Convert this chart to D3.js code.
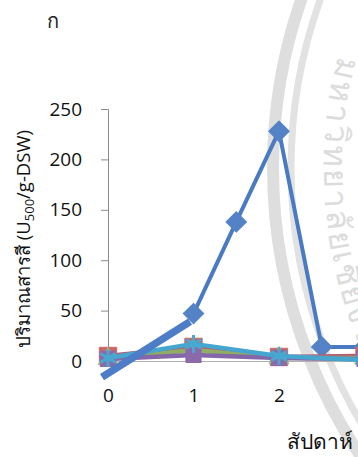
<!DOCTYPE html>
<html>
<head>
<meta charset="utf-8">
<script src="https://cdn.jsdelivr.net/npm/d3@7"></script>
<style>
  html, body { margin: 0; padding: 0; background: #fff; }
  svg { display: block; font-family: "Open Sans", "Noto Sans", sans-serif; }
</style>
</head>
<body>
<div id="chart"></div>
<script>
// values
const weeks = [0, 1, 2, 3];
const blueWeeks = [1, 1.5, 2, 2.5, 3];
const blueValues = [47, 138, 228, 14, 14];
const blueLeadWeeks = [-0.07, 0.96];
const blueLeadValues = [-16, 39];
const redValues = [5, 14, 4, 5];
const greenValues = [2, 11, 3, 3];
const purpleValues = [2, 6, 3, 2];
const cyanValues = [3, 17, 5, 1];
const yTicks = [0, 50, 100, 150, 200, 250];
const xTicks = [0, 1, 2];

const width = 358, height = 457;

const svg = d3.select('#chart')
  .append('svg')
    .attr('width', width)
    .attr('height', height);

// faint seal watermark behind the chart
const seal = svg.append('g').attr('class', 'seal');
const sc = {x: 790, y: 168};
seal.append('circle')
    .attr('cx', sc.x).attr('cy', sc.y).attr('r', 517)
    .attr('fill', 'none').attr('stroke', '#dedede').attr('stroke-width', 12);
seal.append('circle')
    .attr('cx', sc.x).attr('cy', sc.y).attr('r', 499)
    .attr('fill', 'none').attr('stroke', '#e2e2e2').attr('stroke-width', 7);
const rt = 466;
const p0 = [sc.x - Math.sqrt(rt * rt - 228 * 228), -60];
const p1 = [sc.x - Math.sqrt(rt * rt - 330 * 330), 498];
seal.append('path')
    .attr('id', 'sealPath')
    .attr('d', `M${p0[0]},${p0[1]} A${rt},${rt} 0 0 0 ${p1[0]},${p1[1]}`)
    .attr('fill', 'none');
seal.append('text')
    .attr('font-size', 33)
    .attr('letter-spacing', 2)
    .attr('fill', '#dcdcdc')
    .append('textPath')
      .attr('href', '#sealPath')
      .attr('startOffset', 125)
      .text('มหาวิทยาลัยเชียงใหม่');

const x = d3.scaleLinear().domain([0, 3]).range([108, 364.5]);
const y = d3.scaleLinear().domain([0, 250]).range([361, 109]);

// axes
const yAxis = svg.append('g')
    .attr('transform', `translate(${x(0)},0)`)
    .call(d3.axisLeft(y).tickValues(yTicks).tickSize(7).tickPadding(19));
yAxis.select('.domain').attr('stroke', '#8a8a8a');
yAxis.selectAll('.tick line').attr('stroke', '#8a8a8a');
yAxis.selectAll('.tick text')
    .attr('font-size', 19).attr('fill', '#111').attr('font-family', 'Open Sans');

const xAxis = svg.append('g')
    .attr('transform', `translate(0,${y(0)})`)
    .call(d3.axisBottom(x).tickValues(xTicks).tickSize(0).tickPadding(28)
      .tickFormat(d3.format('d')));
xAxis.select('.domain').attr('stroke', '#b0b0b0');
xAxis.selectAll('.tick text')
    .attr('font-size', 19).attr('fill', '#111').attr('font-family', 'Open Sans');

const line = d3.line().x(d => x(d[0])).y(d => y(d[1]));

function series(ws, vs, color, symbol, size, opts = {}) {
  const pts = ws.map((w, i) => [w, vs[i]]);
  svg.append('path')
      .datum(pts)
      .attr('d', line)
      .attr('fill', 'none')
      .attr('stroke', opts.lineColor || color)
      .attr('stroke-width', opts.lineWidth || 4.5)
      .attr('stroke-linejoin', 'round');
  svg.append('g').selectAll('path')
    .data(pts)
    .enter()
    .append('path')
      .attr('d', d3.symbol().type(symbol).size(size))
      .attr('transform', d => `translate(${x(d[0])},${y(d[1])}) rotate(${opts.rotate || 0})`)
      .attr('fill', opts.fill === undefined ? color : opts.fill)
      .attr('stroke', color)
      .attr('stroke-width', opts.markerStroke || 1);
}

series(blueWeeks, blueValues, '#5482c6', d3.symbolSquare, 210, {rotate: 45, lineColor: '#4a7bc2', lineWidth: 4});
series(weeks, redValues, '#c9666b', d3.symbolSquare, 300, {lineColor: '#b45a72'});
series(weeks, greenValues, '#a9c26a', d3.symbolTriangle, 170, {lineColor: '#8fae63'});
series(weeks, purpleValues, '#8a6aab', d3.symbolSquare, 230, {lineColor: '#8566a8'});
series(weeks, cyanValues, '#48a8d0', d3.symbolAsterisk || d3.symbolCross, 220,
  {fill: 'none', markerStroke: 3, lineColor: '#45a7d0'});

// offset blue segment, drawn on top
svg.append('path')
    .datum(blueLeadWeeks.map((w, i) => [w, blueLeadValues[i]]))
    .attr('d', line)
    .attr('fill', 'none')
    .attr('stroke', '#4d7dc6')
    .attr('stroke-width', 7.5);

// texts
svg.append('text')
    .attr('x', 47).attr('y', 28)
    .attr('font-size', 20).attr('fill', '#222')
    .text('ก');

const yt = svg.append('text')
    .attr('transform', 'translate(30,239) rotate(-90)')
    .attr('text-anchor', 'middle')
    .attr('font-size', 18.5).attr('fill', '#111');
yt.append('tspan').text('ปริมาณสารสี (U');
yt.append('tspan').attr('font-size', 13).attr('dy', 4).text('500');
yt.append('tspan').attr('dy', -4).text('/g-DSW)');

svg.append('text')
    .attr('x', 287).attr('y', 449)
    .attr('font-size', 21).attr('fill', '#111')
    .text('สัปดาห์');
</script>
</body>
</html>
